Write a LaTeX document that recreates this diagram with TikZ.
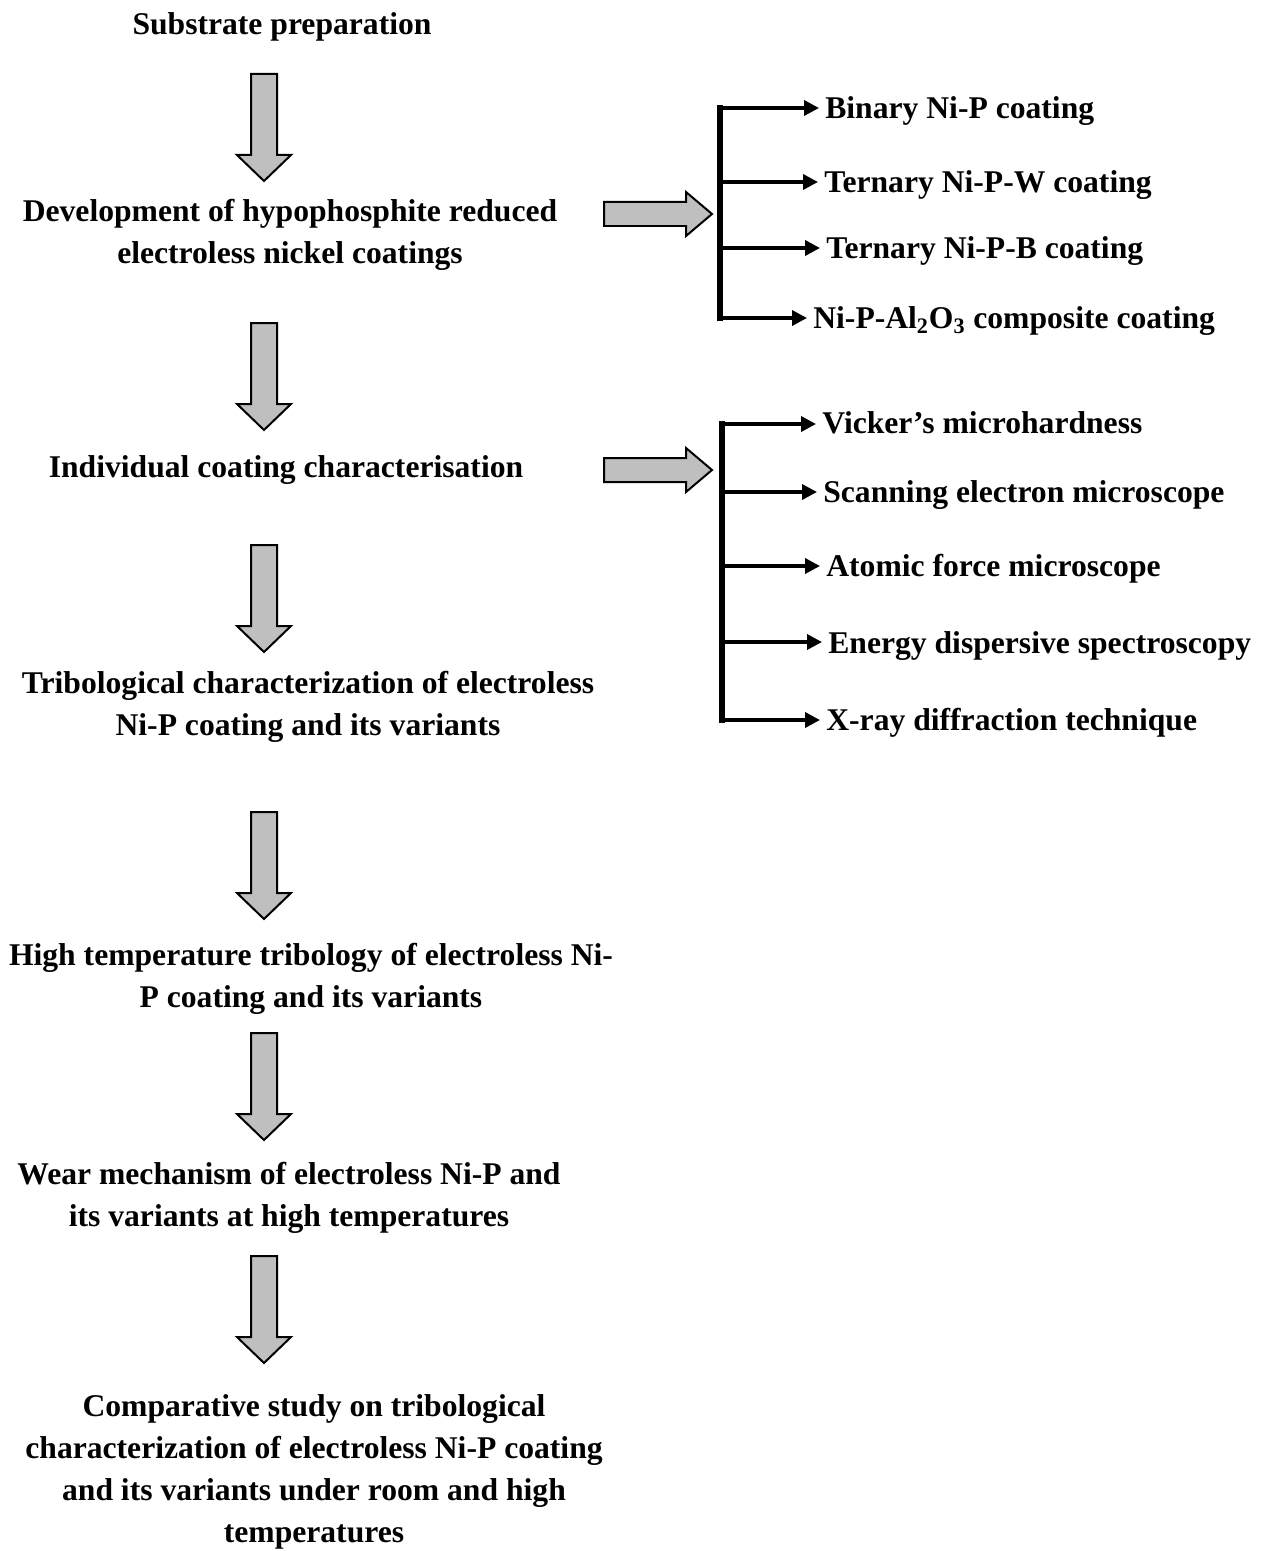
\documentclass[tikz,border=0pt]{standalone}
\usepackage{fontspec}
\setmainfont{Liberation Serif}
\usetikzlibrary{
	arrows.meta,
	calc,
	positioning,
}
\tikzset{step text/.style={align=center,font=\fontsize{18pt}{23.8pt}\selectfont\bfseries,inner sep=0pt,}}
\tikzset{item text/.style={anchor=west,font=\fontsize{18pt}{22pt}\selectfont\bfseries,inner xsep=0.12cm,inner ysep=0pt,}}
\tikzset{bar/.style={line width=0.13cm,}}
\tikzset{branch/.style={line width=0.07cm,-{Triangle[length=0.3cm,width=0.3cm]},}}
\tikzset{block/.style={draw=black,fill=gray!50,line width=0.04cm,miter limit=4,}}
\tikzset{
	down arrow/.pic={\path[block] (-13,0) -- (13,0) -- (13,81) -- (27,81) -- (0,107) -- (-27,81) -- (-13,81) -- cycle;},
	right arrow/.pic={\path[block] (0,-12) -- (82,-12) -- (82,-22) -- (108,0) -- (82,22) -- (82,12) -- (0,12) -- cycle;},
}

\begin{document}
\begin{tikzpicture}[x=0.02cm,y=-0.02cm]
\useasboundingbox (0,0) rectangle (1273,1551);

\node[step text](sub) at(282,27) {Substrate preparation};
\node[step text](dev) at(290,235) {Development of hypophosphite reduced\\electroless nickel coatings};
\node[step text](ind) at(286,470) {Individual coating characterisation};
\node[step text](tri) at(308,707) {Tribological characterization of electroless\\Ni-P coating and its variants};
\node[step text](hig) at(311,979) {High temperature tribology of electroless Ni-\\P coating and its variants};
\node[step text](wea) at(289,1198) {Wear mechanism of electroless Ni-P and\\its variants at high temperatures};
\node[step text](com) at(314,1472) {Comparative study on tribological\\characterization of electroless Ni-P coating\\and its variants under room and high\\temperatures};

\pic at(264,74) {down arrow};
\pic at(264,323) {down arrow};
\pic at(264,545) {down arrow};
\pic at(264,812) {down arrow};
\pic at(264,1033) {down arrow};
\pic at(264,1256) {down arrow};

\pic at(604,214) {right arrow};
\pic at(604,470) {right arrow};

\coordinate(bar1) at(720,105);
\coordinate(bar1end) at(720,321);
\draw[bar] (bar1) -- (bar1end);
\node[item text](bin) at(819,111) {Binary Ni-P coating};
\node[item text](ter1) at(818,185) {Ternary Ni-P-W coating};
\node[item text](ter2) at(820,251) {Ternary Ni-P-B coating};
\node[item text](comp) at(807,321) {Ni-P-Al\textsubscript{2}O\textsubscript{3} composite coating};
\draw[branch] (bar1 |- 0,108) -- (bin.west |- 0,108);
\draw[branch] (bar1 |- 0,182) -- (ter1.west |- 0,182);
\draw[branch] (bar1 |- 0,248) -- (ter2.west |- 0,248);
\draw[branch] (bar1 |- 0,318) -- (comp.west |- 0,318);

\coordinate(bar2) at(722,421);
\coordinate(bar2end) at(722,723);
\draw[bar] (bar2) -- (bar2end);
\node[item text](vic) at(816,423) {Vicker’s microhardness};
\node[item text](sem) at(817,495) {Scanning electron microscope};
\node[item text](afm) at(820,569) {Atomic force microscope};
\node[item text](eds) at(822,646) {Energy dispersive spectroscopy};
\node[item text](xrd) at(820,723) {X-ray diffraction technique};
\draw[branch] (bar2 |- 0,424) -- (vic.west |- 0,424);
\draw[branch] (bar2 |- 0,492) -- (sem.west |- 0,492);
\draw[branch] (bar2 |- 0,566) -- (afm.west |- 0,566);
\draw[branch] (bar2 |- 0,642) -- (eds.west |- 0,642);
\draw[branch] (bar2 |- 0,720) -- (xrd.west |- 0,720);

\end{tikzpicture}
\end{document}
